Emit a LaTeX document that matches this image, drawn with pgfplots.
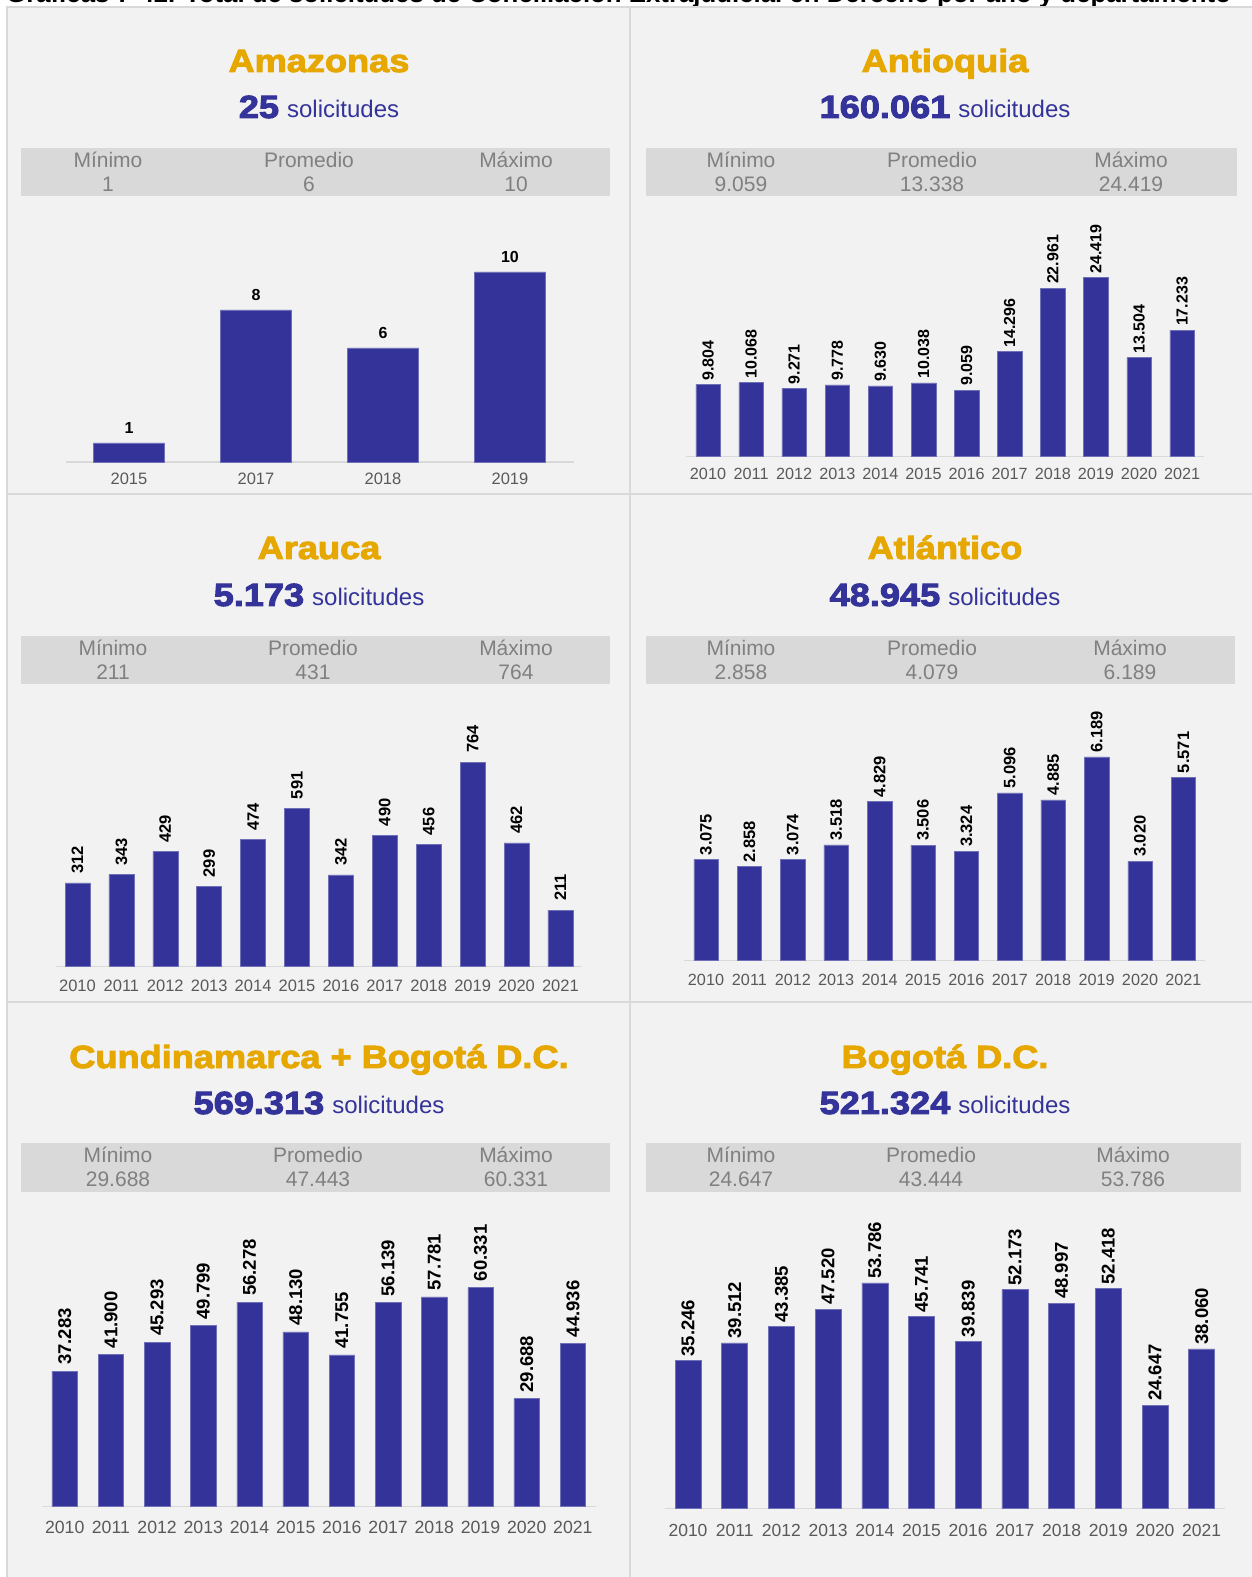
\documentclass[border=0pt]{standalone}
\usepackage{pgfplots}
\pgfplotsset{compat=1.18}
\usepackage{fontspec}
\setmainfont{Liberation Sans}
\newfontfamily\heavyfont{Liberation Sans}[FakeStretch=1.13, BoldFeatures={FakeBold=3}]
\definecolor{titlegold}{RGB}{230,168,0}
\definecolor{barblue}{RGB}{51,51,153}
\definecolor{panelbg}{RGB}{242,242,242}
\definecolor{boxgray}{RGB}{217,217,217}
\definecolor{statgray}{RGB}{128,128,128}
\definecolor{tickgray}{RGB}{89,89,89}
\definecolor{linegray}{RGB}{217,217,217}

\pgfplotsset{
  panel/.style={
    scale only axis, anchor=south west, ymin=0, enlargelimits=false, clip=false,
    axis x line*=bottom, axis y line=none,
    x axis line style={draw=linegray, line width=1.5pt},
    ytick=\empty, major tick length=0pt,
    xticklabel style={text=tickgray, inner sep=0pt, anchor=north},
    ybar, nodes near coords,
    every node near coord/.append style={text=black},
    /pgf/number format/fixed, /pgf/number format/precision=0,
    /pgf/number format/1000 sep={.},
    /pgf/number format/assume math mode=true,
  },
  rotlab/.style={every node near coord/.append style={rotate=90, anchor=west, inner sep=#1}},
  bars/.style={fill=barblue, draw=barblue!70!white, line width=0.5pt},
}

\newcommand{\ptitle}[3]{\node[anchor=base, inner sep=0pt, text=titlegold, font=\heavyfont\bfseries\fontsize{32}{36}\selectfont] at (#1,#2) {#3};}
\newcommand{\subt}[3]{\node[anchor=base, inner sep=0pt, text=barblue] at (#1,#2) {{\heavyfont\bfseries\fontsize{32}{36}\selectfont #3}\hspace{8pt}{\fontsize{24}{28}\selectfont solicitudes}};}
\newcommand{\stat}[4]{%
  \node[anchor=base, inner sep=0pt, text=statgray, font=\fontsize{21}{24}\selectfont] at (#1,#2) {#3};
  \node[anchor=base, inner sep=0pt, text=statgray, font=\fontsize{21}{24}\selectfont] at (#1,#2-24) {#4};}

\begin{document}
\begin{tikzpicture}[x=1pt,y=1pt]
\useasboundingbox (0,0) rectangle (1252,1577);
\clip (0,0) rectangle (1252,1577);
\fill[white] (0,0) rectangle (1252,1577);
\fill[panelbg] (7,0) rectangle (1252,1570);
\node[anchor=base west, inner sep=0pt, font=\bfseries\fontsize{25.8}{30}\selectfont] at (6,1574.5) {Gráficas 7-42. Total de solicitudes de Conciliación Extrajudicial en Derecho por año y departamento};
\draw[linegray, line width=2pt] (7,0) -- (7,1570) -- (1252,1570);
\draw[linegray, line width=2pt] (630,0) -- (630,1570);
\draw[linegray, line width=2pt] (7,1083) -- (1252,1083);
\draw[linegray, line width=2pt] (7,575) -- (1252,575);

% stats boxes
\fill[boxgray] (21,1381) rectangle (610,1429);
\fill[boxgray] (646,1381) rectangle (1237,1429);
\fill[boxgray] (21,893) rectangle (610,941);
\fill[boxgray] (646,893) rectangle (1235,941);
\fill[boxgray] (21,385) rectangle (610,434);
\fill[boxgray] (646,385) rectangle (1241,434);

% headers
\ptitle{319}{1505}{Amazonas}
\subt{319}{1459}{25}
\ptitle{945}{1505}{Antioquia}
\subt{945}{1459}{160.061}
\ptitle{319}{1018}{Arauca}
\subt{319}{971}{5.173}
\ptitle{945}{1018}{Atlántico}
\subt{945}{971}{48.945}
\ptitle{319}{509}{Cundinamarca + Bogotá D.C.}
\subt{319}{463}{569.313}
\ptitle{945}{509}{Bogotá D.C.}
\subt{945}{463}{521.324}

% stats
\stat{108}{1409}{Mínimo}{1}
\stat{309}{1409}{Promedio}{6}
\stat{516}{1409}{Máximo}{10}
\stat{741}{1409}{Mínimo}{9.059}
\stat{932}{1409}{Promedio}{13.338}
\stat{1131}{1409}{Máximo}{24.419}
\stat{113}{921}{Mínimo}{211}
\stat{313}{921}{Promedio}{431}
\stat{516}{921}{Máximo}{764}
\stat{741}{921}{Mínimo}{2.858}
\stat{932}{921}{Promedio}{4.079}
\stat{1130}{921}{Máximo}{6.189}
\stat{118}{414}{Mínimo}{29.688}
\stat{318}{414}{Promedio}{47.443}
\stat{516}{414}{Máximo}{60.331}
\stat{741}{414}{Mínimo}{24.647}
\stat{931}{414}{Promedio}{43.444}
\stat{1133}{414}{Máximo}{53.786}

% Amazonas
\begin{axis}[panel, at={(65.5pt,1115pt)}, width=508pt, height=228pt,
  xmin=-0.5, xmax=3.5, ymax=12, xtick={0,1,2,3}, xticklabels={2015,2017,2018,2019},
  xticklabel style={font=\fontsize{16.5}{18}\selectfont, yshift=-11pt}, bar width=71pt,
  every node near coord/.append style={anchor=south, inner sep=0pt, yshift=9pt, font=\bfseries\fontsize{16}{18}\selectfont}]
\addplot[bars] table {
x y
0 1
1 8
2 6
3 10
};
\end{axis}

% Antioquia
\begin{axis}[panel, at={(686.45pt,1120.5pt)}, width=517.2pt, height=219.9pt,
  xmin=-0.5, xmax=11.5, ymax=30000, xtick={0,...,11},
  xticklabels={2010,2011,2012,2013,2014,2015,2016,2017,2018,2019,2020,2021},
  xticklabel style={font=\fontsize{16.2}{18}\selectfont, yshift=-11.5pt}, bar width=24.5pt,
  rotlab=4pt, every node near coord/.append style={font=\bfseries\fontsize{16}{18}\selectfont}]
\addplot[bars] table {
x y
0 9804
1 10068
2 9271
3 9778
4 9630
5 10038
6 9059
7 14296
8 22961
9 24419
10 13504
11 17233
};
\end{axis}

% Arauca
\begin{axis}[panel, at={(55.55pt,610.5pt)}, width=526.8pt, height=240.9pt,
  xmin=-0.5, xmax=11.5, ymax=900, xtick={0,...,11},
  xticklabels={2010,2011,2012,2013,2014,2015,2016,2017,2018,2019,2020,2021},
  xticklabel style={font=\fontsize{16.5}{18}\selectfont, yshift=-13pt}, bar width=25pt,
  rotlab=9pt, every node near coord/.append style={font=\bfseries\fontsize{16.5}{18}\selectfont}]
\addplot[bars] table {
x y
0 312
1 343
2 429
3 299
4 474
5 591
6 342
7 490
8 456
9 764
10 462
11 211
};
\end{axis}

% Atlantico
\begin{axis}[panel, at={(684.3pt,616.5pt)}, width=520.8pt, height=230.2pt,
  xmin=-0.5, xmax=11.5, ymax=7000, xtick={0,...,11},
  xticklabels={2010,2011,2012,2013,2014,2015,2016,2017,2018,2019,2020,2021},
  xticklabel style={font=\fontsize{16.2}{18}\selectfont, yshift=-13pt}, bar width=24.5pt,
  rotlab=4pt, every node near coord/.append style={font=\bfseries\fontsize{16.5}{18}\selectfont}]
\addplot[bars] table {
x y
0 3075
1 2858
2 3074
3 3518
4 4829
5 3506
6 3324
7 5096
8 4885
9 6189
10 3020
11 5571
};
\end{axis}

% Cundinamarca + Bogota
\begin{axis}[panel, at={(41.6pt,70.5pt)}, width=554.4pt, height=254.1pt,
  xmin=-0.5, xmax=11.5, ymax=70000, xtick={0,...,11},
  xticklabels={2010,2011,2012,2013,2014,2015,2016,2017,2018,2019,2020,2021},
  xticklabel style={font=\fontsize{17.7}{20}\selectfont, yshift=-14.5pt}, bar width=25.5pt,
  rotlab=6pt, every node near coord/.append style={font=\bfseries\fontsize{18.5}{20}\selectfont}]
\addplot[bars] table {
x y
0 37283
1 41900
2 45293
3 49799
4 56278
5 48130
6 41755
7 56139
8 57781
9 60331
10 29688
11 44936
};
\end{axis}

% Bogota
\begin{axis}[panel, at={(664.65pt,68.5pt)}, width=560.4pt, height=251.6pt,
  xmin=-0.5, xmax=11.5, ymax=60000, xtick={0,...,11},
  xticklabels={2010,2011,2012,2013,2014,2015,2016,2017,2018,2019,2020,2021},
  xticklabel style={font=\fontsize{17.5}{20}\selectfont, yshift=-15.5pt}, bar width=26pt,
  rotlab=4pt, every node near coord/.append style={font=\bfseries\fontsize{18.5}{20}\selectfont}]
\addplot[bars] table {
x y
0 35246
1 39512
2 43385
3 47520
4 53786
5 45741
6 39839
7 52173
8 48997
9 52418
10 24647
11 38060
};
\end{axis}
\end{tikzpicture}
\end{document}
